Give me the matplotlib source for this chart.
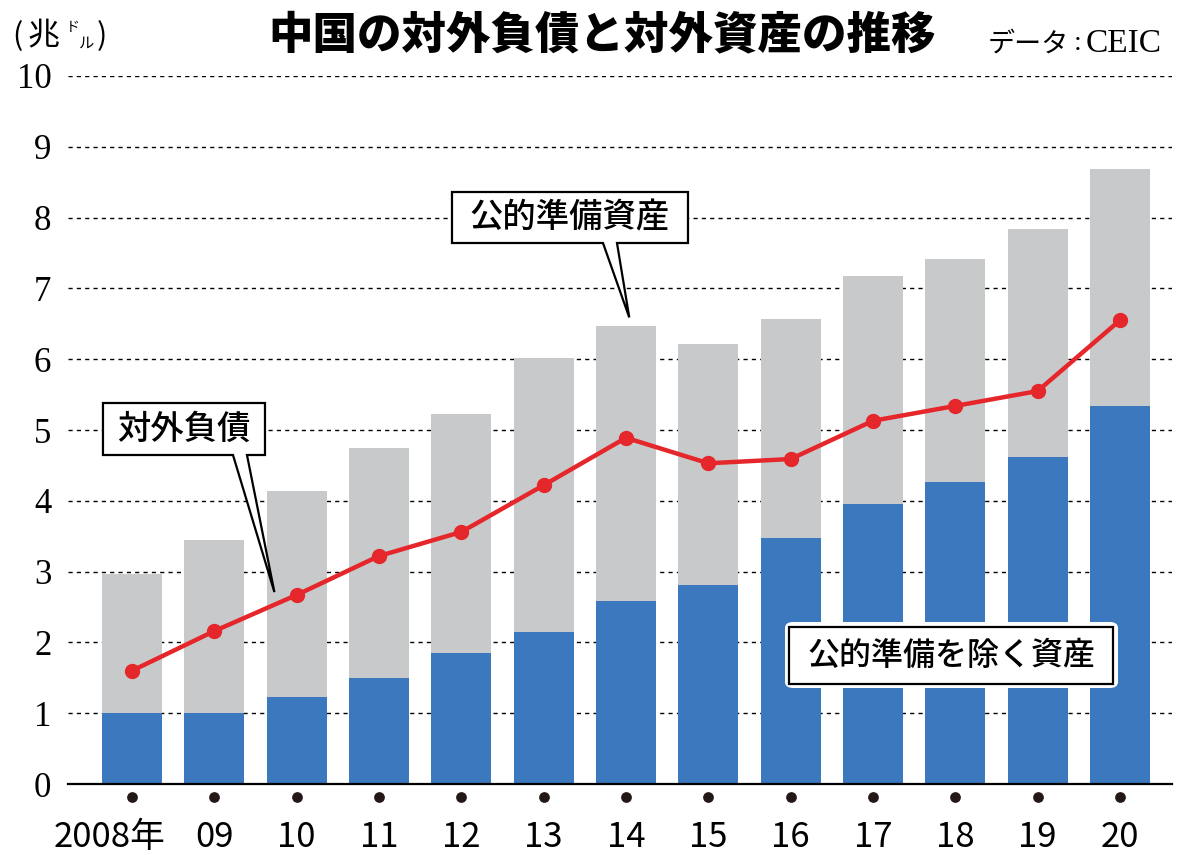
import matplotlib.pyplot as plt
from matplotlib.patches import Polygon, FancyBboxPatch, Rectangle
import matplotlib.transforms as mtransforms
import numpy as np

plt.rcParams['font.family'] = ['Noto Sans CJK JP', 'DejaVu Sans']

# データ (兆ドル)
years = ['2008年', '09', '10', '11', '12', '13', '14', '15', '16', '17', '18', '19', '20']
total_assets = [2.97, 3.45, 4.14, 4.75, 5.23, 6.02, 6.47, 6.21, 6.57, 7.18, 7.42, 7.84, 8.69]
non_reserve = [1.00, 1.00, 1.23, 1.50, 1.85, 2.15, 2.58, 2.81, 3.47, 3.95, 4.27, 4.62, 5.34]
liabilities = [1.60, 2.16, 2.67, 3.22, 3.56, 4.22, 4.89, 4.53, 4.59, 5.13, 5.34, 5.55, 6.55]

GREY = '#c8c9cb'
BLUE = '#3b78bd'
RED = '#e5262a'

W, H = 1200, 855
fig = plt.figure(figsize=(12, 8.55), dpi=100)
ax = fig.add_axes([68 / W, 1 - 784 / H, (1172 - 68) / W, (784 - 76) / H])

x = np.arange(len(years))
ax.bar(x, total_assets, width=0.73, color=GREY, zorder=2)
ax.bar(x, non_reserve, width=0.73, color=BLUE, zorder=3)
ax.plot(x, liabilities, color=RED, lw=3.2, marker='o', ms=10, zorder=5)

ax.set_xlim(-0.777, 12.632)
ax.set_ylim(0, 10)
for v in range(1, 11):
    ax.axhline(v, color='black', lw=1.0, ls=(0, (3, 3)), zorder=1)

for s in ['top', 'right', 'left']:
    ax.spines[s].set_visible(False)
ax.spines['bottom'].set_linewidth(1.6)
ax.spines['bottom'].set_zorder(6)

ax.set_yticks(range(0, 11))
ax.set_yticklabels([str(v) for v in range(0, 11)], family='Liberation Serif', fontsize=25)
ax.tick_params(axis='y', length=0, pad=12)

ax.set_xticks(x)
ax.set_xticklabels(years, fontsize=25)
ax.tick_params(axis='x', length=0, pad=26)
first = ax.get_xticklabels()[0]
first.set_transform(first.get_transform() + mtransforms.ScaledTranslation(-22 / 100, 0, fig.dpi_scale_trans))

# 目盛りの点
trans = mtransforms.blended_transform_factory(ax.transData, ax.transAxes)
ax.scatter(x, [-0.018] * len(x), s=45, color='#231815', transform=trans, clip_on=False, zorder=6)

# ピクセル座標 -> データ座標
def px(xp, yp):
    return ((xp - 132) / 82.33, (784 - yp) / 70.8)

def callout(box, base, tip, label):
    x0, y0, x1, y1 = box
    b0, b1 = base
    pts = [px(x0, y0), px(x1, y0), px(x1, y1), px(b1, y1), tip, px(b0, y1), px(x0, y1)]
    ax.add_patch(Polygon(pts, closed=True, fc='white', ec='black', lw=1.6, zorder=8, clip_on=False))
    cx, cy = px((x0 + x1) / 2, (y0 + y1) / 2)
    ax.text(cx, cy, label, ha='center', va='center', fontsize=24, fontweight='medium', zorder=9)

callout((452, 192, 688, 243), (603, 617), (6 + 0.04, total_assets[6] + 0.12), '公的準備資産')
callout((103, 403, 265, 455), (233, 247), (2 - 0.27, liabilities[2] + 0.04), '対外負債')

# 公的準備を除く資産
ox0, oy0 = px(785, 688)
ox1, oy1 = px(1118, 622)
ax.add_patch(FancyBboxPatch((ox0, oy0), ox1 - ox0, oy1 - oy0, boxstyle='round,pad=0,rounding_size=0.1',
                            fc='white', ec='none', zorder=8, mutation_aspect=0.86))
ix0, iy0 = px(789, 684)
ix1, iy1 = px(1113, 627)
ax.add_patch(Rectangle((ix0, iy0), ix1 - ix0, iy1 - iy0, fc='white', ec='black', lw=1.6, zorder=9))
cx, cy = px(951, 656)
ax.text(cx, cy, '公的準備を除く資産', ha='center', va='center', fontsize=23, fontweight='medium', zorder=10)

# タイトル等
fig.text(602 / W, 1 - 35 / H, '中国の対外負債と対外資産の推移', ha='center', va='center',
         fontsize=32, fontweight='black')
fig.text(988 / W, 1 - 44 / H, 'データ', ha='left', va='center', fontsize=19.5)
fig.text(1074 / W, 1 - 44 / H, ':', ha='left', va='center', fontsize=20, family='Liberation Serif')
fig.text(1086 / W, 1 - 44 / H, 'CEIC', ha='left', va='center', fontsize=24, family='Liberation Serif')
fig.text(12 / W, 1 - 37 / H, '(', ha='left', va='center', fontsize=22)
fig.text(28 / W, 1 - 36 / H, '兆', ha='left', va='center', fontsize=23)
fig.text(66 / W, 1 - 27 / H, 'ド', ha='left', va='center', fontsize=10)
fig.text(79 / W, 1 - 43 / H, 'ル', ha='left', va='center', fontsize=11)
fig.text(97 / W, 1 - 37 / H, ')', ha='left', va='center', fontsize=22)

fig.savefig('out.png', dpi=100)
